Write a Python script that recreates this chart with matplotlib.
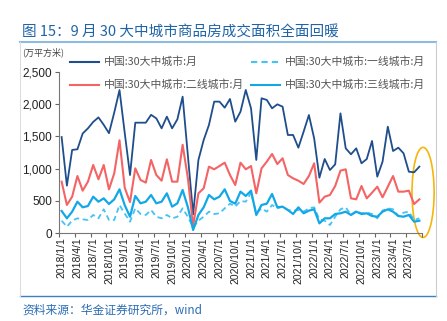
import matplotlib
matplotlib.use("Agg")
import matplotlib.pyplot as plt
from matplotlib.patches import Ellipse
from matplotlib.lines import Line2D
import numpy as np

plt.rcParams['font.family'] = ['Noto Sans CJK SC', 'DejaVu Sans']

# Monthly data, 2018/1 .. 2023/9 (万平方米)
total = [1490, 735, 1290, 1300, 1545, 1625, 1725, 1795, 1680, 1550, 1870, 2220,
         1550, 900, 1713, 1713, 1713, 1835, 1780, 1625, 1807, 1625, 1765, 2117,
         1200, 290, 1134, 1444, 1677, 2040, 2040, 1946, 2081, 1729, 1884, 2221,
         1936, 1134, 2092, 2066, 1936, 1998, 1962, 1522, 1522, 1325, 1574, 1832,
         1470, 859, 1149, 978, 1066, 1858, 1315, 1222, 1315, 1082, 1149, 1429,
         875, 1107, 1651, 1273, 1325, 1237, 952, 942, 1030]
tier1 = [191, 98, 191, 228, 212, 202, 280, 228, 368, 202, 202, 435,
         300, 176, 383, 295, 280, 357, 253, 228, 280, 228, 253, 383,
         250, 88, 191, 253, 331, 295, 306, 383, 455, 409, 497, 486,
         626, 306, 383, 331, 435, 383, 409, 357, 347, 357, 331, 383,
         399, 212, 191, 124, 253, 368, 399, 280, 342, 306, 316, 295,
         228, 347, 383, 368, 264, 316, 331, 202, 228]
tier2 = [797, 435, 564, 885, 657, 797, 1056, 834, 1056, 678, 927, 1440,
         700, 480, 1004, 823, 782, 1134, 901, 812, 1144, 797, 797, 1370,
         850, 110, 616, 694, 1030, 989, 1040, 1092, 901, 745, 1092, 989,
         1040, 616, 1004, 1108, 1227, 1071, 1160, 901, 849, 812, 761, 885,
         1082, 471, 564, 590, 730, 968, 989, 538, 523, 730, 538, 626,
         719, 554, 719, 885, 642, 642, 657, 450, 523]
tier3 = [342, 228, 331, 486, 399, 419, 564, 486, 538, 450, 523, 678,
         430, 253, 575, 461, 486, 590, 461, 486, 616, 409, 461, 668,
         400, 47, 280, 399, 590, 523, 564, 678, 497, 455, 642, 575,
         657, 280, 435, 455, 606, 399, 409, 357, 295, 399, 306, 347,
         368, 150, 228, 228, 295, 306, 331, 280, 331, 295, 306, 264,
         253, 331, 368, 331, 264, 253, 280, 176, 191]

tick_labels = [f"{y}/{m}/1" for y in range(2018, 2024) for m in (1, 4, 7, 10)][:23]
series_names = ["中国:30大中城市:月", "中国:30大中城市:一线城市:月",
                "中国:30大中城市:二线城市:月", "中国:30大中城市:三线城市:月"]
title = "图 15：9 月 30 大中城市商品房成交面积全面回暖"
unit = "(万平方米)"
source = "资料来源：华金证券研究所，wind"

W, H = 447, 321
fig = plt.figure(figsize=(W / 100, H / 100), dpi=100)

def fx(px):
    return px / W

def fy(py):
    return 1 - py / H

c_total = "#1f4e8c"
c_t1 = "#45c3f2"
c_t2 = "#f46464"
c_t3 = "#12a8e6"

ax = fig.add_axes([fx(59), fy(233), fx(422) - fx(59), fy(72) - fy(233)])
x = np.arange(len(total))
ax.plot(x, total, color=c_total, lw=1.3)
ax.plot(x, tier1, color=c_t1, lw=1.3, ls=(0, (3, 2)))
ax.plot(x, tier2, color=c_t2, lw=1.5)
ax.plot(x, tier3, color=c_t3, lw=1.6)

ax.set_xlim(-0.5, len(total) - 0.5)
ax.set_ylim(0, 2500)
ax.set_yticks(range(0, 2501, 500))
ax.set_yticklabels([f"{v:,}" for v in range(0, 2501, 500)],
                   fontfamily='Liberation Sans', fontsize=8.5, color='#222222')
ax.set_xticks(np.arange(0, len(total) + 1, 3) - 0.5)
ax.set_xticklabels([])
ax.set_xticks(np.arange(0, 67, 3), minor=True)
ax.set_xticklabels(tick_labels, minor=True, rotation=90,
                   fontfamily='Liberation Sans', fontsize=7.5, color='#222222')
ax.tick_params(axis='x', which='minor', length=0, pad=3)
ax.tick_params(axis='x', which='major', length=3, color='#666666', direction='out')
ax.tick_params(axis='y', length=3, color='#666666', direction='out', pad=2)
for s in ['top', 'right']:
    ax.spines[s].set_visible(False)
for s in ['left', 'bottom']:
    ax.spines[s].set_color('#777777')
    ax.spines[s].set_linewidth(0.8)
ax.patch.set_alpha(0)

ell = Ellipse((68.7, 630), 4.2, 1400, fill=False, edgecolor='#f5b50a', lw=1.2, clip_on=False)
ax.add_patch(ell)

# Legend (manual)
leg_items = [(70, 62, c_total, '-', series_names[0]),
             (251, 62, c_t1, (0, (3, 2)), series_names[1]),
             (70, 85, c_t2, '-', series_names[2]),
             (251, 85, c_t3, '-', series_names[3])]
for px, py, col, ls, name in leg_items:
    fig.add_artist(Line2D([fx(px), fx(px + 29)], [fy(py), fy(py)], color=col, lw=1.5, ls=ls))
    fig.text(fx(px + 34), fy(py), name, fontsize=7.8, color='#555555', va='center', ha='left')

# Title, frame, unit, source
fig.text(fx(22), fy(33), title, fontsize=10.5, color='#1f64a8', va='center', ha='left')
fig.add_artist(Line2D([fx(20), fx(436)], [fy(42), fy(42)], color='#8dbbe0', lw=1.5))
fig.add_artist(Line2D([fx(20), fx(436)], [fy(296), fy(296)], color='#3d7fc0', lw=1.0))
fig.add_artist(Line2D([fx(20), fx(20)], [fy(42), fy(296)], color='#dddddd', lw=0.8))
fig.add_artist(Line2D([fx(436), fx(436)], [fy(42), fy(296)], color='#cccccc', lw=0.8))
fig.text(fx(22), fy(52), unit, fontsize=6.5, color='#444444', va='center', ha='left')
fig.text(fx(22), fy(310), source, fontsize=8.5, color='#2a6cb5', va='center', ha='left', style='italic')

fig.savefig("out.png", dpi=100)
